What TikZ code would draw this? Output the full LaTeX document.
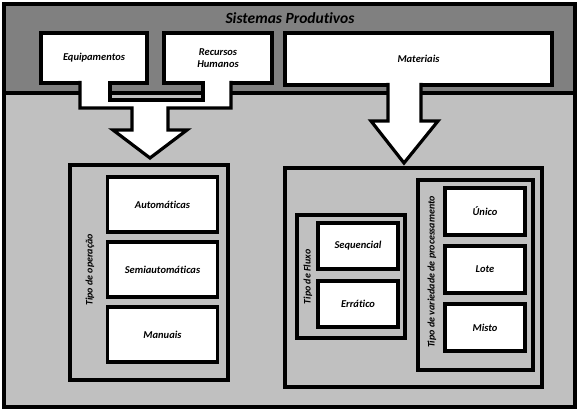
\documentclass[tikz,border=0pt]{standalone}
\usepackage{fontspec}
\setmainfont{Carlito}[Ligatures=CommonOff]
\usepackage{xcolor}
\usepackage{tikz}
\usetikzlibrary{positioning}
\definecolor{bandgray}{RGB}{128,128,128}
\definecolor{panelgray}{RGB}{192,192,192}

\begin{document}
\begin{tikzpicture}[
    x=1pt, y=-1pt,
    node distance=10pt,
    box/.style={draw, rectangle, line width=3.2pt, outer sep=0pt, fill=white, minimum width=80pt, minimum height=47pt, inner sep=1pt, align=center, font=\fontsize{10.5}{12.5}\selectfont\bfseries\itshape},
    panel/.style={draw, rectangle, line width=3.2pt, fill=panelgray, inner sep=0pt},
    sidelabel/.style={rotate=90, inner sep=0pt, font=\fontsize{10}{12}\selectfont\bfseries\itshape},
    arrowline/.style={draw, line width=3.2pt, line join=miter}
]
    \useasboundingbox (0,0) rectangle (579,412);

    % Background
    \fill[panelgray] (4,4) rectangle (575,407);
    \fill[bandgray] (4,4) rectangle (575,93);
    \draw[line width=3.2pt] (4,93) -- (575,93);

    % Top nodes
    \node[font=\fontsize{15.5}{18}\selectfont\bfseries\itshape] (title) at (290,18) {Sistemas Produtivos};
    \node[box, minimum width=106pt, minimum height=50pt] (equip) at (94,58) {Equipamentos};
    \node[box, minimum width=108pt, minimum height=50pt] (rh) at (218,58) {Recursos\\Humanos};
    \node[box, minimum width=267pt, minimum height=52pt] (mat) at (418.5,59) {Materiais};

    % Arrows
    \fill[white] (80,81) -- (80,108) -- (132,108) -- (132,130) -- (113,130) -- (150,158)
        -- (187,130) -- (168,130) -- (168,108) -- (231,108) -- (231,81) -- (203,81)
        -- (203,100) -- (110,100) -- (110,81) -- cycle;
    \draw[arrowline] (80,81) -- (80,108) -- (132,108) -- (132,130) -- (113,130) -- (150,158)
        -- (187,130) -- (168,130) -- (168,108) -- (231,108) -- (231,81);
    \draw[arrowline] (203,81) -- (203,100) -- (110,100) -- (110,81);
    \fill[white] (388,83) -- (388,121) -- (371,121) -- (404,163) -- (438,121) -- (421,121) -- (421,83) -- cycle;
    \draw[arrowline] (388,83) -- (388,121) -- (371,121) -- (404,163) -- (438,121) -- (421,121) -- (421,83);

    % Tipo de operacao
    \node[panel, minimum width=158pt, minimum height=215pt] (tipoop) at (149,272.5) {};
    \node[sidelabel] (oplabel) at (90,270) {Tipo de operação};
    \node[box, minimum width=110pt, minimum height=55pt] (auto) at (162.5,204.5) {Automáticas};
    \node[box, minimum width=110pt, minimum height=55pt, below=of auto] (semi) {Semiautomáticas};
    \node[box, minimum width=110pt, minimum height=55pt, below=of semi] (man) {Manuais};

    % Materiais
    \node[panel, minimum width=257pt, minimum height=219pt] (matbox) at (413.5,277.5) {};
    \node[panel, minimum width=108pt, minimum height=123pt] (fluxo) at (351,276.5) {};
    \node[sidelabel] (fluxolabel) at (308,277) {Tipo de Fluxo};
    \node[box, minimum height=46pt] (seq) at (358,246) {Sequencial};
    \node[box, minimum height=46pt, below=12pt of seq] (err) {Errático};
    \node[panel, minimum width=115pt, minimum height=190pt] (varied) at (475.5,275) {};
    \node[sidelabel] (variedlabel) at (432,272) {Tipo de variedade de processamento};
    \node[box] (unico) at (485,211.5) {Único};
    \node[box, below=11pt of unico] (lote) {Lote};
    \node[box, below=11pt of lote] (misto) {Misto};

    % Frame
    \draw[line width=3.4pt] (4,4) rectangle (575,407);
\end{tikzpicture}
\end{document}
